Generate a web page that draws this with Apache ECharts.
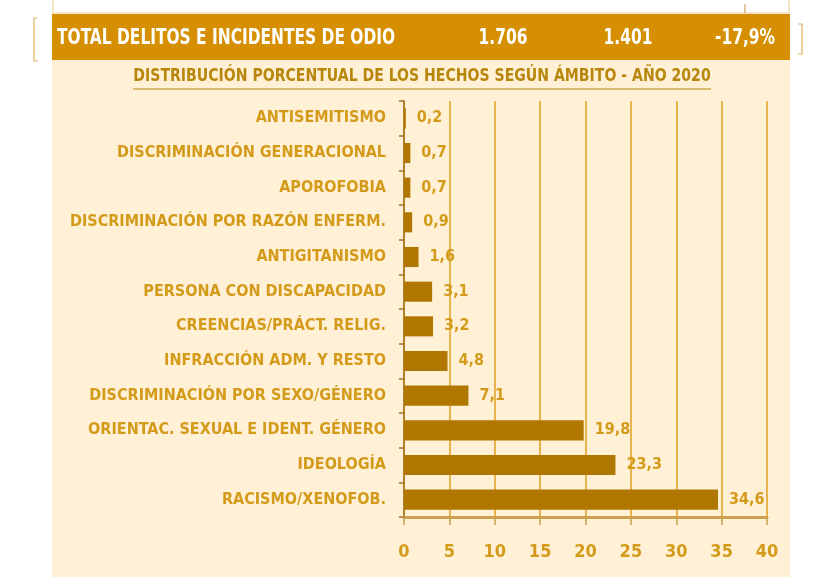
<!DOCTYPE html>
<html>
<head>
<meta charset="utf-8">
<script src="https://cdn.jsdelivr.net/npm/echarts@6/dist/echarts.min.js"></script>
<style>
    html, body { margin: 0; padding: 0; background: #ffffff; }
    #chart { width: 821px; height: 582px; }
</style>
</head>
<body>
<div id="chart"></div>
<script>
// categories top to bottom
const categories = [
    "ANTISEMITISMO",
    "DISCRIMINACIÓN GENERACIONAL",
    "APOROFOBIA",
    "DISCRIMINACIÓN POR RAZÓN ENFERM.",
    "ANTIGITANISMO",
    "PERSONA CON DISCAPACIDAD",
    "CREENCIAS/PRÁCT. RELIG.",
    "INFRACCIÓN ADM. Y RESTO",
    "DISCRIMINACIÓN POR SEXO/GÉNERO",
    "ORIENTAC. SEXUAL E IDENT. GÉNERO",
    "IDEOLOGÍA",
    "RACISMO/XENOFOB."
];
const percentages = [0.2, 0.7, 0.7, 0.9, 1.6, 3.1, 3.2, 4.8, 7.1, 19.8, 23.3, 34.6];

const bandLabel = "TOTAL DELITOS E INCIDENTES DE ODIO";
const bandValues = ["1.706", "1.401", "-17,9%"];
const chartTitle = "DISTRIBUCIÓN PORCENTUAL DE LOS HECHOS SEGÚN ÁMBITO - AÑO 2020";

const FONT = "'DejaVu Sans Condensed', 'DejaVu Sans', sans-serif";
const GOLD = "#d49a1a";
const BAR = "#b07800";
const BAND = "#d68f00";

let chart = echarts.init(document.getElementById("chart"));

const bandXs = [503, 628, 745];

let option = {
    backgroundColor: "#ffffff",
    animation: false,
    graphic: [
        // cream panel
        { type: "rect", z: -10, shape: { x: 52, y: 60, width: 738, height: 517 }, style: { fill: "#fff0d6" } },
        // remnants of the table above
        { type: "polyline", shape: { points: [[53, 0], [53, 13], [789, 13], [789, 0]] }, style: { stroke: "#f3dfb8", lineWidth: 1.5, fill: null } },
        { type: "line", shape: { x1: 745, y1: 4, x2: 745, y2: 13 }, style: { stroke: "#c8a060", lineWidth: 1.2 } },
        // orange band
        { type: "rect", shape: { x: 52, y: 14, width: 738, height: 46 }, style: { fill: BAND } },
        { type: "text", x: 57, y: 38, scaleX: 0.78, style: { text: bandLabel, fill: "#ffffff", font: "bold 22px " + FONT, textVerticalAlign: "middle" } },
        ...bandValues.map((v, i) => ({
            type: "text", x: bandXs[i], y: 38, scaleX: 0.78,
            style: { text: v, fill: "#ffffff", font: "bold 22px " + FONT, textAlign: "center", textVerticalAlign: "middle" }
        })),
        // side brackets
        { type: "polyline", shape: { points: [[37, 18], [34, 18], [34, 61], [38, 61]] }, style: { stroke: "#e0b060", lineWidth: 1.2, fill: null } },
        { type: "polyline", shape: { points: [[798, 24], [802, 24], [802, 54], [798, 54]] }, style: { stroke: "#e0b060", lineWidth: 1.2, fill: null } },
        // title and underline
        { type: "text", x: 422, y: 77, scaleX: 0.92, style: { text: chartTitle, fill: "#b8860b", font: "bold 17px " + FONT, textAlign: "center", textVerticalAlign: "middle" } },
        { type: "line", shape: { x1: 133, y1: 89, x2: 711, y2: 89 }, style: { stroke: "#b8860b", lineWidth: 1.2 } }
    ],
    grid: {
        left: 404,
        right: 54,
        top: 101,
        bottom: 65,
        containLabel: false
    },
    xAxis: {
        type: "value",
        min: 0,
        max: 40,
        interval: 5,
        axisLine: { show: true, lineStyle: { color: "#c8a050", width: 3 } },
        axisTick: { show: true, length: 8, lineStyle: { color: "#c8a050", width: 1.5 } },
        axisLabel: { color: GOLD, fontFamily: FONT, fontWeight: "bold", fontSize: 18, margin: 26 },
        splitLine: { show: true, lineStyle: { color: "#e0a020", width: 1.5 } }
    },
    yAxis: {
        type: "category",
        inverse: true,
        data: categories,
        axisLine: { show: true, lineStyle: { color: "#a07020", width: 1.5 } },
        axisTick: { show: true, length: 5, lineStyle: { color: "#a07020", width: 1.5 } },
        axisLabel: { color: GOLD, fontFamily: FONT, fontWeight: "bold", fontSize: 16, margin: 18 }
    },
    series: [
        {
            type: "bar",
            data: percentages,
            barCategoryGap: "42%",
            itemStyle: { color: BAR },
            label: {
                show: true,
                position: "right",
                distance: 11,
                color: GOLD,
                fontFamily: FONT,
                fontWeight: "bold",
                fontSize: 16,
                formatter: p => String(p.value).replace(".", ",")
            }
        }
    ]
};

chart.setOption(option);
</script>
</body>
</html>
